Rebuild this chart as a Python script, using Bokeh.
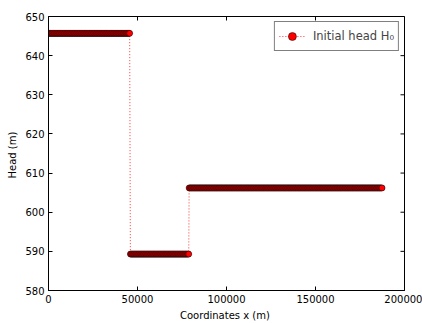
import numpy as np
from bokeh.plotting import figure
from bokeh.models import BasicTickFormatter, FixedTicker, Range1d, Legend, LegendItem
from bokeh.embed import file_html
from bokeh.resources import INLINE

# segments of the initial head profile
seg_x_start = [0, 46000, 79000]
seg_x_end = [45600, 78800, 187600]
seg_head = [645.7, 589.3, 606.2]
grid_dx = 400

x_ticks = [0, 50000, 100000, 150000, 200000]
y_ticks = [580, 590, 600, 610, 620, 630, 640, 650]
x_lim = (0, 200000)
y_lim = (580, 650)

xs, hs = [], []
for a, b, h in zip(seg_x_start, seg_x_end, seg_head):
    xx = np.arange(a, b + 1, grid_dx)
    xs.extend(xx.tolist())
    hs.extend([h] * len(xx))

FONT = "DejaVu Sans"

p = figure(width=422, height=323, output_backend="svg", toolbar_location=None,
           x_range=Range1d(*x_lim), y_range=Range1d(*y_lim),
           min_border_left=48, min_border_right=18, min_border_top=16, min_border_bottom=30)
p.grid.visible = False
p.outline_line_color = "black"
p.outline_line_width = 1
p.background_fill_color = "white"
p.border_fill_color = "white"

ln = p.line(xs, hs, line_color="red", line_dash="1 2", line_width=1, line_alpha=0.8)
sc = p.scatter(xs, hs, size=6, fill_color="red", line_color="black", line_width=0.5)

# inward ticks on the top and right edges (matplotlib classic style)
p.scatter(x_ticks, [y_lim[1]] * len(x_ticks), marker="dash", angle=np.pi / 2, size=8,
          line_color="black", line_width=1)
p.scatter([x_lim[1]] * len(y_ticks), y_ticks, marker="dash", size=8,
          line_color="black", line_width=1)

for ax in [p.xaxis[0], p.yaxis[0]]:
    ax.major_tick_in = 4
    ax.major_tick_out = 0
    ax.minor_tick_line_color = None
    ax.axis_line_color = "black"
    ax.major_label_text_font = FONT
    ax.major_label_text_font_size = "10px"
    ax.major_label_text_color = "black"
    ax.axis_label_text_font = FONT
    ax.axis_label_text_font_size = "10px"
    ax.axis_label_text_font_style = "normal"
    ax.axis_label_text_color = "black"
    ax.major_label_standoff = 4
    ax.axis_label_standoff = 4

p.xaxis[0].ticker = FixedTicker(ticks=x_ticks)
p.xaxis[0].formatter = BasicTickFormatter(use_scientific=False)
p.yaxis[0].ticker = FixedTicker(ticks=y_ticks)
p.xaxis[0].axis_label = "Coordinates x  (m)"
p.yaxis[0].axis_label = "Head  (m)"

legend = Legend(items=[LegendItem(label="Initial head H\u2080", renderers=[ln, sc])],
                location="top_right")
legend.label_text_font = FONT
legend.label_text_font_size = "11.5px"
legend.border_line_color = "black"
legend.border_line_width = 1
legend.margin = 5
legend.padding = 4
legend.spacing = 0
legend.glyph_width = 26
legend.label_standoff = 8
p.add_layout(legend)

open("out.html", "w").write(file_html(p, INLINE))
